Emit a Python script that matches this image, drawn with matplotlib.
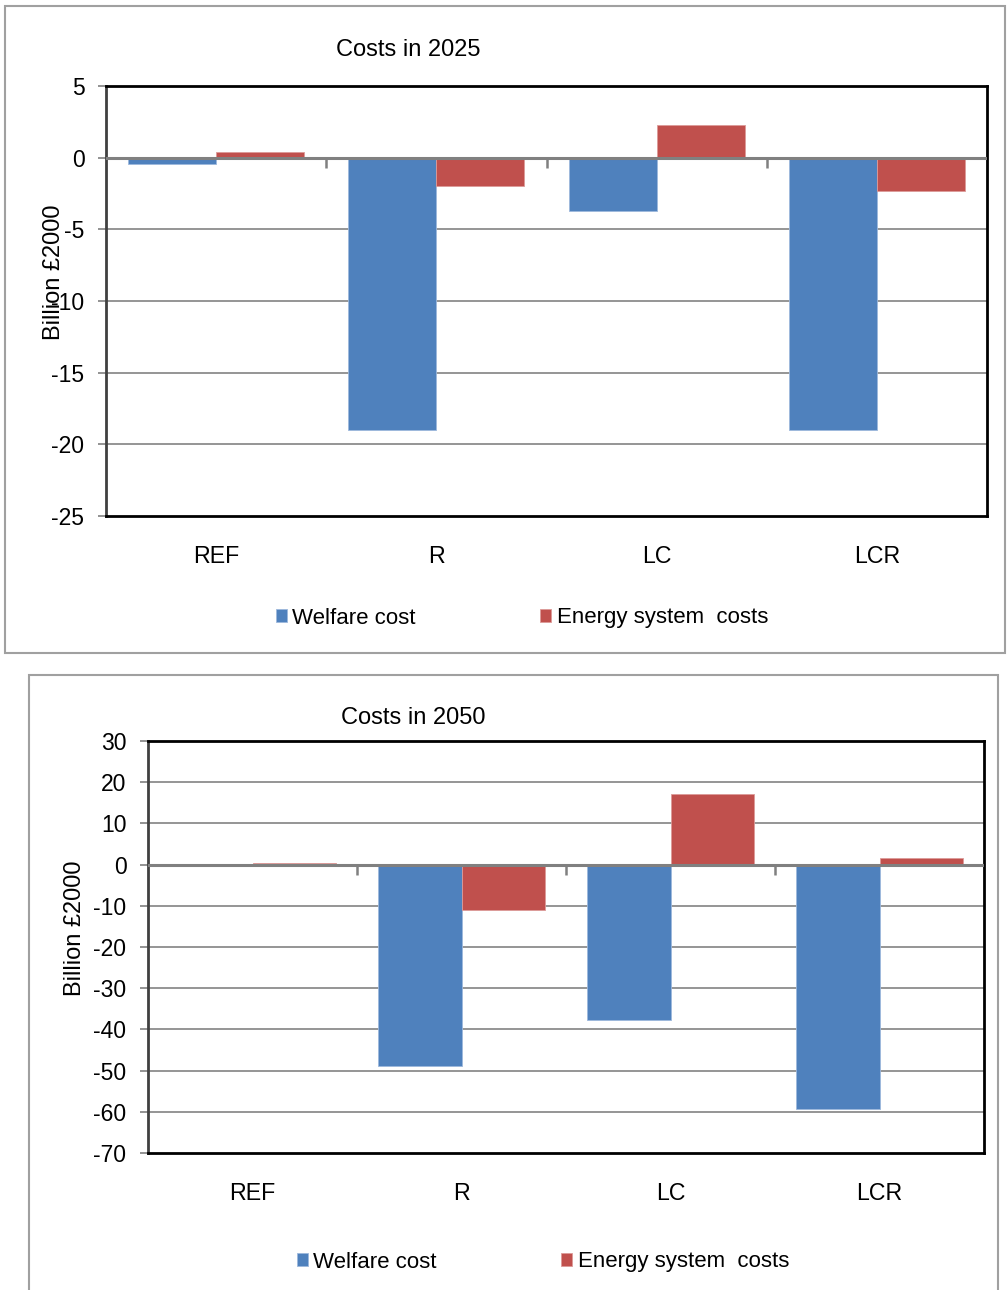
import numpy as np
import matplotlib
matplotlib.use("Agg")
import matplotlib.pyplot as plt
from matplotlib.patches import Rectangle

plt.rcParams['font.family'] = ['Liberation Sans', 'DejaVu Sans']

scenarios = ["REF", "R", "LC", "LCR"]
series_names = ["Welfare cost", "Energy system  costs"]

welfare_2025 = [-0.45, -19.0, -3.7, -19.0]
energy_2025 = [0.4, -2.0, 2.3, -2.3]

welfare_2050 = [-0.3, -49.0, -37.6, -59.2]
energy_2050 = [0.5, -11.0, 17.2, 1.7]

BLUE = "#4F81BD"
RED = "#C0504D"
GRID = "#8c8c8c"

W, H = 1007, 1290
fig = plt.figure(figsize=(W / 100, H / 100), dpi=100)


def px_box(left, top, right, bottom):
    return [left / W, 1 - bottom / H, (right - left) / W, (bottom - top) / H]


def frame(left, top, right, bottom):
    r = Rectangle((left / W, 1 - bottom / H), (right - left) / W, (bottom - top) / H,
                  transform=fig.transFigure, fill=False, edgecolor="#a0a0a0", linewidth=1.5)
    fig.patches.append(r)


def panel(box, welfare, energy, ylim, step, title, title_xy, ylabel_xy, legend_xy):
    ax = fig.add_axes(px_box(*box))
    x = np.arange(len(scenarios))
    w = 0.4
    b1 = ax.bar(x - w / 2, welfare, w, color=BLUE, edgecolor="#9db8dc", linewidth=0.6,
                label=series_names[0], zorder=3)
    b2 = ax.bar(x + w / 2, energy, w, color=RED, edgecolor="#dc9a98", linewidth=0.6,
                label=series_names[1], zorder=3)
    ax.set_xlim(-0.5, len(scenarios) - 0.5)
    ax.set_ylim(*ylim)
    ticks = np.arange(ylim[0], ylim[1] + step, step)
    ax.set_yticks(ticks)
    ax.set_yticklabels([str(int(t)) for t in ticks], fontsize=16.5)
    for t in ticks[1:-1]:
        if t == 0:
            continue
        ax.axhline(t, color=GRID, linewidth=1.3, zorder=1)
    ax.axhline(0, color="#808080", linewidth=2.2, zorder=4)
    bounds = np.arange(0.5, len(scenarios) - 0.5, 1.0)
    ax.plot(bounds, np.zeros_like(bounds), linestyle="none", marker=3,
            markersize=7, color="#808080", markeredgewidth=1.8, zorder=4, clip_on=False)
    ax.set_xticks(x)
    ax.set_xticklabels(scenarios, fontsize=16.7)
    ax.tick_params(axis="x", length=0, pad=21)
    ax.tick_params(axis="y", length=5.5, width=1.2, color="#808080", pad=10, direction="out")
    for side in ["top", "right", "bottom"]:
        ax.spines[side].set_color("black")
        ax.spines[side].set_linewidth(2)
    ax.spines["left"].set_color("#404040")
    ax.spines["left"].set_linewidth(2)

    fig.text(title_xy[0] / W, 1 - title_xy[1] / H, title, fontsize=17,
             ha="center", va="center")
    fig.text(ylabel_xy[0] / W, 1 - ylabel_xy[1] / H, "Billion £2000", fontsize=17,
             rotation=90, ha="center", va="center")
    fig.legend(handles=[b1, b2], loc="center", bbox_to_anchor=(legend_xy[0] / W, 1 - legend_xy[1] / H),
               ncol=2, frameon=False, fontsize=16, handlelength=0.5, handleheight=0.5,
               handletextpad=0.25, columnspacing=5.6, borderaxespad=0)
    return ax


frame(5, 6, 1005, 653)
panel((106, 86, 987, 516), welfare_2025, energy_2025, (-25, 5), 5,
      "Costs in 2025", (408, 50), (54, 272), (522, 618))

frame(29, 675, 998, 1300)
panel((148, 741, 984, 1153), welfare_2050, energy_2050, (-70, 30), 10,
      "Costs in 2050", (413, 718), (75, 928), (543, 1262))

fig.savefig("out.png", dpi=100)
